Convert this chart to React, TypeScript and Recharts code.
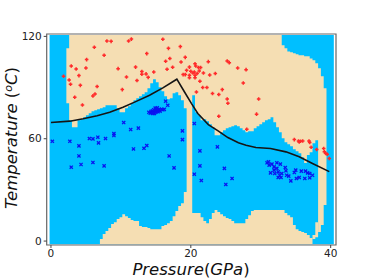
import React from 'react';
import { ComposedChart, Area, Line, Scatter, XAxis, YAxis, ReferenceArea } from 'recharts';

// decision map columns, one per 0.4 GPa (last one closes the map)
const pressures = [
  -0.2, 0.2, 0.6, 1, 1.4, 1.8, 2.2, 2.6, 3, 3.4, 3.8, 4.2, 4.6, 5, 5.4, 5.8, 6.2, 6.6, 7, 7.4,
  7.8, 8.2, 8.6, 9, 9.4, 9.8, 10.2, 10.6, 11, 11.4, 11.8, 12.2, 12.6, 13, 13.4, 13.8, 14.2, 14.6, 15, 15.4,
  15.8, 16.2, 16.6, 17, 17.4, 17.8, 18.2, 18.6, 19, 19.4, 19.8, 20.2, 20.6, 21, 21.4, 21.8, 22.2, 22.6, 23, 23.4,
  23.8, 24.2, 24.6, 25, 25.4, 25.8, 26.2, 26.6, 27, 27.4, 27.8, 28.2, 28.6, 29, 29.4, 29.8, 30.2, 30.6, 31, 31.4,
  31.8, 32.2, 32.6, 33, 33.4, 33.8, 34.2, 34.6, 35, 35.4, 35.8, 36.2, 36.6, 37, 37.4, 37.8, 38.2, 38.6, 39, 39.4,
  39.8, 40.2, 40.45,
];

// top of the lower tan region
const lowerTan = [
  -1.8, -1.8, -1.8, -1.8, -1.8, -1.8, -1.8, -1.8, -1.8, -1.8, -1.8, -1.8, -1.8, -1.8, -1.8, -1.8, -1.8, -1.8, 1.2, 4.1,
  5.9, 7.6, 10, 11.1, 12.9, 14, 15.8, 14.6, 13.5, 12.3, 11.7, 11.7, 8.8, 8.2, 8.2, 7.6, 7, 7, 7, 7,
  8.8, 9.4, 10.5, 11.7, 14.6, 17.6, 20.5, 22.2, 28.7, 29.9, 29.9, 16.4, 16.4, 16.4, 14, 11.7, 10.5, 12.9, 16.4, 18.2,
  17, 15.8, 14.6, 13.5, 12.9, 11.7, 10.5, 10.5, 10.5, 10.5, 12.9, 15.2, 17.6, 18.2, 18.2, 18.2, 18.2, 18.2, 18.2, 18.2,
  18.2, 18.2, 18.2, 18.2, 16.4, 15.2, 14, 9.4, 7, 5.9, 5.3, 4.7, 3.5, 1.8, -1.8, -1.8, -1.8, -1.8, -1.8, -1.8,
  -1.8, -1.8, -1.8,
];

// bottom of the upper tan region
const upperTanLow = [
  120.8, 120.8, 120.8, 120.8, 120.8, 120.8, 80.8, 70.8, 66.7, 66.7, 70.8, 71.4, 72.6, 73.8, 74.9, 76.1, 76.7, 77.3, 77.9, 78.5,
  79.6, 79.6, 79.6, 79.6, 77.9, 75.5, 75.5, 77.9, 79, 80.8, 82.6, 83.7, 84.9, 86.1, 87.2, 89.6, 92.5, 94.9, 93.1, 90.2,
  87.8, 84.9, 83.1, 83.7, 86.7, 87.2, 85.5, 82.6, 77.9, 29.9, 29.9, 85.5, 75.5, 73.8, 70.8, 71.4, 70.3, 68.5, 66.7, 62.1,
  62.1, 63.8, 65, 66.2, 66.7, 67.3, 67.9, 67.3, 66.2, 65, 63.8, 64.4, 64.4, 66.2, 67.3, 68.5, 69.7, 70.8, 71.4, 72.6,
  69.7, 66.7, 63.8, 60.3, 58, 56.8, 55.6, 53.9, 52.7, 51.5, 49.2, 45.7, 50.4, 52.1, 57.4, 59.1, 5.3, 9.4, 21.1, 120.8,
  120.8, 120.8, 120.8,
];

// top of the upper tan region
const upperTanHigh = [
  120.8, 120.8, 120.8, 120.8, 120.8, 120.8, 113, 120.8, 120.8, 120.8, 120.8, 120.8, 120.8, 120.8, 120.8, 120.8, 120.8, 120.8, 120.8, 120.8,
  120.8, 120.8, 120.8, 120.8, 120.8, 120.8, 120.8, 120.8, 120.8, 120.8, 120.8, 120.8, 120.8, 120.8, 120.8, 120.8, 120.8, 120.8, 120.8, 120.8,
  120.8, 120.8, 120.8, 120.8, 120.8, 120.8, 120.8, 120.8, 120.8, 120.8, 120.8, 120.8, 120.8, 120.8, 120.8, 120.8, 120.8, 120.8, 120.8, 120.8,
  120.8, 120.8, 120.8, 120.8, 120.8, 120.8, 120.8, 120.8, 120.8, 120.8, 120.8, 120.8, 120.8, 120.8, 120.8, 120.8, 120.8, 120.8, 120.8, 120.8,
  120.8, 120.8, 120.8, 114.8, 113, 111.2, 110.7, 110.1, 109.5, 108.9, 108.9, 108.3, 108.3, 107.1, 106, 104.2, 101.3, 96.6, 89.6, 120.8,
  120.8, 120.8, 120.8,
];

// small tan foot next to the right hand strip
const footP = [37.4, 37.8, 38.2];
const footLow = [1.2, 2.3, 2.3];
const footHigh = [3.5, 11.1, 11.1];

// phase boundary curve
const curveP = [0, 2.7, 4.6, 6.6, 8.4, 10.3, 12.2, 14.1, 16, 18, 19.1, 20.1, 21, 22.5, 23.9, 25.3, 26.8, 27.9, 29.3, 31.4, 33.6, 35.5, 37.4, 39.8];
const curveT = [69.5, 70.3, 71.7, 73.5, 75.5, 78.5, 81.9, 85.5, 89.8, 94.9, 87.4, 80.6, 74.8, 68.3, 64.6, 60.7, 57.6, 56.2, 54.9, 54.3, 52.3, 49.4, 45.5, 40.7];

const redPoints = [
  [1.8, 96.6], [6.2, 113.6], [8, 117.3], [8.6, 117.1], [11.1, 117.3], [11.5, 118.4], [16, 118.3], [16.8, 113], [18.5, 114],
  [19.2, 107.7], [18.6, 105], [17, 107], [16.4, 105.4], [13.7, 109.9], [7.6, 108.9], [5.1, 106.4], [2.9, 102.6], [3.6, 100.9],
  [5, 101.5], [4, 97], [2.6, 94.4], [2.8, 91.9], [4.2, 91.3], [6.6, 90.6], [6.3, 86.2], [6, 85.1], [3.4, 84.3], [4.5, 79.8],
  [10.2, 88.8], [9.6, 101.1], [10.8, 96.2], [12.3, 94.1], [12.1, 102], [13, 99.4], [13, 97.8], [13.6, 98], [13.9, 96], [14.7, 99.1],
  [16.6, 100.7], [17.4, 101.9], [18.9, 97.6], [19.2, 97.6], [22.5, 105.2], [25.2, 105.6], [25.5, 104.6], [26.7, 101.5], [27.9, 100.5],
  [23.5, 98.2], [22.7, 97.4], [21.8, 98.5], [21.3, 93.7], [27.5, 92.7], [24.5, 88.8], [21.7, 90], [22.3, 90], [20.8, 87.4], [23.1, 86.5],
  [24, 85.9], [25.2, 83.3], [29.7, 83.3], [25.3, 80.8], [24, 73.2], [29.4, 74.4], [28, 65.6], [20.6, 104], [20.7, 102.6], [19.8, 102],
  [19.4, 100.1], [20.5, 99.1], [21.1, 101.7], [21.4, 101.7], [21.2, 99.7], [20.9, 98.2], [20.6, 97.2], [20.3, 98.5], [19.8, 97.2],
  [19.8, 95.8], [20.6, 95.8], [20, 99.5], [34.8, 59.5], [35.4, 58.7], [35.7, 58.5], [36, 58.7], [36.9, 58.7], [37, 57.8], [38, 53.7],
  [37.2, 55], [39, 54.3], [39.1, 52.3], [39.3, 51.3], [39.5, 50.9], [39.8, 48.4], [35.5, 58.1],
];

const bluePoints = [
  [16.4, 82], [16.7, 79.6], [10.4, 69.5], [11.4, 65.4], [12.5, 66.2], [9, 63], [9, 61.9], [18.8, 64.6], [18.8, 59.5], [5.5, 60.1],
  [6, 59.9], [6.7, 60.9], [7.8, 60.1], [0.2, 58.5], [2.7, 58.5], [4, 55.8], [6.8, 57.6], [4, 49.9], [2.9, 43.3], [4.3, 44.9], [6, 46.1],
  [7.6, 44.1], [11.8, 54], [13.3, 54.4], [13.7, 56], [16.9, 49.9], [17.6, 42.9], [20.5, 68.9], [21.3, 52.9], [21.3, 44.1], [23.8, 55.2],
  [24.8, 42.6], [20.5, 39.2], [21.5, 35.5], [25.9, 36.7], [25, 33.2],
  [14, 75.5], [14.2, 75], [14.3, 76], [14.5, 75.2], [14.5, 76.3], [14.7, 75.6], [14.7, 77], [14.8, 74.8], [14.9, 76.2], [15, 77.5],
  [15, 75.5], [15.1, 76.6], [15.2, 78.2], [15.3, 77], [15.3, 75.8], [15.5, 77.2], [15.6, 76.2], [15.8, 77.3], [16, 77], [16.2, 77.2],
  [14.6, 74.8], [14.9, 78],
  [30.9, 45.9], [31.1, 46.4], [31.2, 44.5], [31.6, 45.1], [32.3, 45.9], [32.8, 45.1], [31.4, 40], [31.9, 41.6], [32.3, 42.6], [32.5, 40.6],
  [32, 39.6], [33.5, 43.1], [33.6, 41.2], [33.7, 38.6], [32.5, 37.3], [32.9, 37.3], [34.3, 35.3], [34.8, 40.2], [35, 41.6], [35.8, 41],
  [35.1, 36.7], [35.5, 37.3], [36.3, 36.7], [36.4, 41], [36.7, 40], [37, 39.6], [37.4, 38.6], [37, 37.1], [33, 39.6], [34, 38.1],
  [31.9, 43.5], [32.7, 38.6],
];

const xTicks = [0, 20, 40];
const yTicks = [0, 60, 120];

const SKY = '#00BFFF';
const TAN = '#F5DEB3';
const FONT = '"DejaVu Sans", sans-serif';

const mapRows = pressures.map((p, i) => ({
  p,
  sky: [-1.8, 120.8],
  lower: [-1.8, lowerTan[i]],
  upper: [upperTanLow[i], upperTanHigh[i]],
}));
const footRows = footP.map((p, i) => ({ p, band: [footLow[i], footHigh[i]] }));
const curveRows = curveP.map((p, i) => ({ p, t: curveT[i] }));
const redRows = redPoints.map(([p, t]) => ({ p, t }));
const blueRows = bluePoints.map(([p, t]) => ({ p, t }));

const RedMark = ({ cx, cy }: any) => (
  <path d={`M${cx - 1.8} ${cy}H${cx + 1.8}M${cx} ${cy - 1.8}V${cy + 1.8}`} stroke="#ff2a2a" strokeWidth={1.5} fill="none" />
);

const BlueMark = ({ cx, cy }: any) => (
  <path d={`M${cx - 1.6} ${cy - 1.6}L${cx + 1.6} ${cy + 1.6}M${cx - 1.6} ${cy + 1.6}L${cx + 1.6} ${cy - 1.6}`} stroke="#0a14f0" strokeWidth={1.3} fill="none" />
);

export default function App() {
  return (
    <div style={{ position: 'absolute', left: 0, top: 0, width: 374, height: 280 }}>
      <ComposedChart width={374} height={280} data={mapRows} margin={{ top: 34, right: 38, bottom: 0, left: 0 }}>
        <XAxis
          dataKey="p"
          type="number"
          domain={[-0.61, 40.76]}
          allowDataOverflow
          ticks={xTicks}
          height={35}
          tickSize={3}
          tickLine={{ stroke: '#444' }}
          axisLine={false}
          tick={{ fill: '#222', fontSize: 10.5, fontFamily: FONT }}
        />
        <YAxis
          type="number"
          domain={[-2.3, 121.4]}
          allowDataOverflow
          ticks={yTicks}
          width={46.7}
          tickSize={3}
          tickLine={{ stroke: '#444' }}
          axisLine={false}
          tick={{ fill: '#222', fontSize: 10.5, fontFamily: FONT }}
        />
        <Area dataKey="sky" type="stepAfter" fill={SKY} fillOpacity={1} stroke="none" isAnimationActive={false} dot={false} activeDot={false} />
        <Area dataKey="lower" type="stepAfter" fill={TAN} fillOpacity={1} stroke="none" isAnimationActive={false} dot={false} activeDot={false} />
        <Area dataKey="upper" type="stepAfter" fill={TAN} fillOpacity={1} stroke="none" isAnimationActive={false} dot={false} activeDot={false} />
        <Area data={footRows} dataKey="band" type="stepAfter" fill={TAN} fillOpacity={1} stroke="none" isAnimationActive={false} dot={false} activeDot={false} />
        <Scatter data={redRows} dataKey="t" shape={RedMark} isAnimationActive={false} />
        <Scatter data={blueRows} dataKey="t" shape={BlueMark} isAnimationActive={false} />
        <Line data={curveRows} dataKey="t" type="linear" stroke="#151515" strokeWidth={1.6} dot={false} activeDot={false} isAnimationActive={false} />
        <ReferenceArea x1={-0.61} x2={40.76} y1={-2.3} y2={121.4} fill="none" stroke="#666" strokeWidth={1.2} ifOverflow="extendDomain" />
        <text x={191} y={275} textAnchor="middle" fontFamily={FONT} fontSize={16.5} fill="#111">
          <tspan fontStyle="italic">Pressure</tspan>
          <tspan>(</tspan>
          <tspan fontStyle="italic">GPa</tspan>
          <tspan>)</tspan>
        </text>
        <text x={17} y={138} transform="rotate(-90 17 138)" textAnchor="middle" fontFamily={FONT} fontSize={16.5} fill="#111">
          <tspan fontStyle="italic">Temperature</tspan>
          <tspan> (</tspan>
          <tspan fontStyle="italic" fontSize={11} dy={-5}>o</tspan>
          <tspan fontStyle="italic" dy={5}>C</tspan>
          <tspan>)</tspan>
        </text>
      </ComposedChart>
    </div>
  );
}
